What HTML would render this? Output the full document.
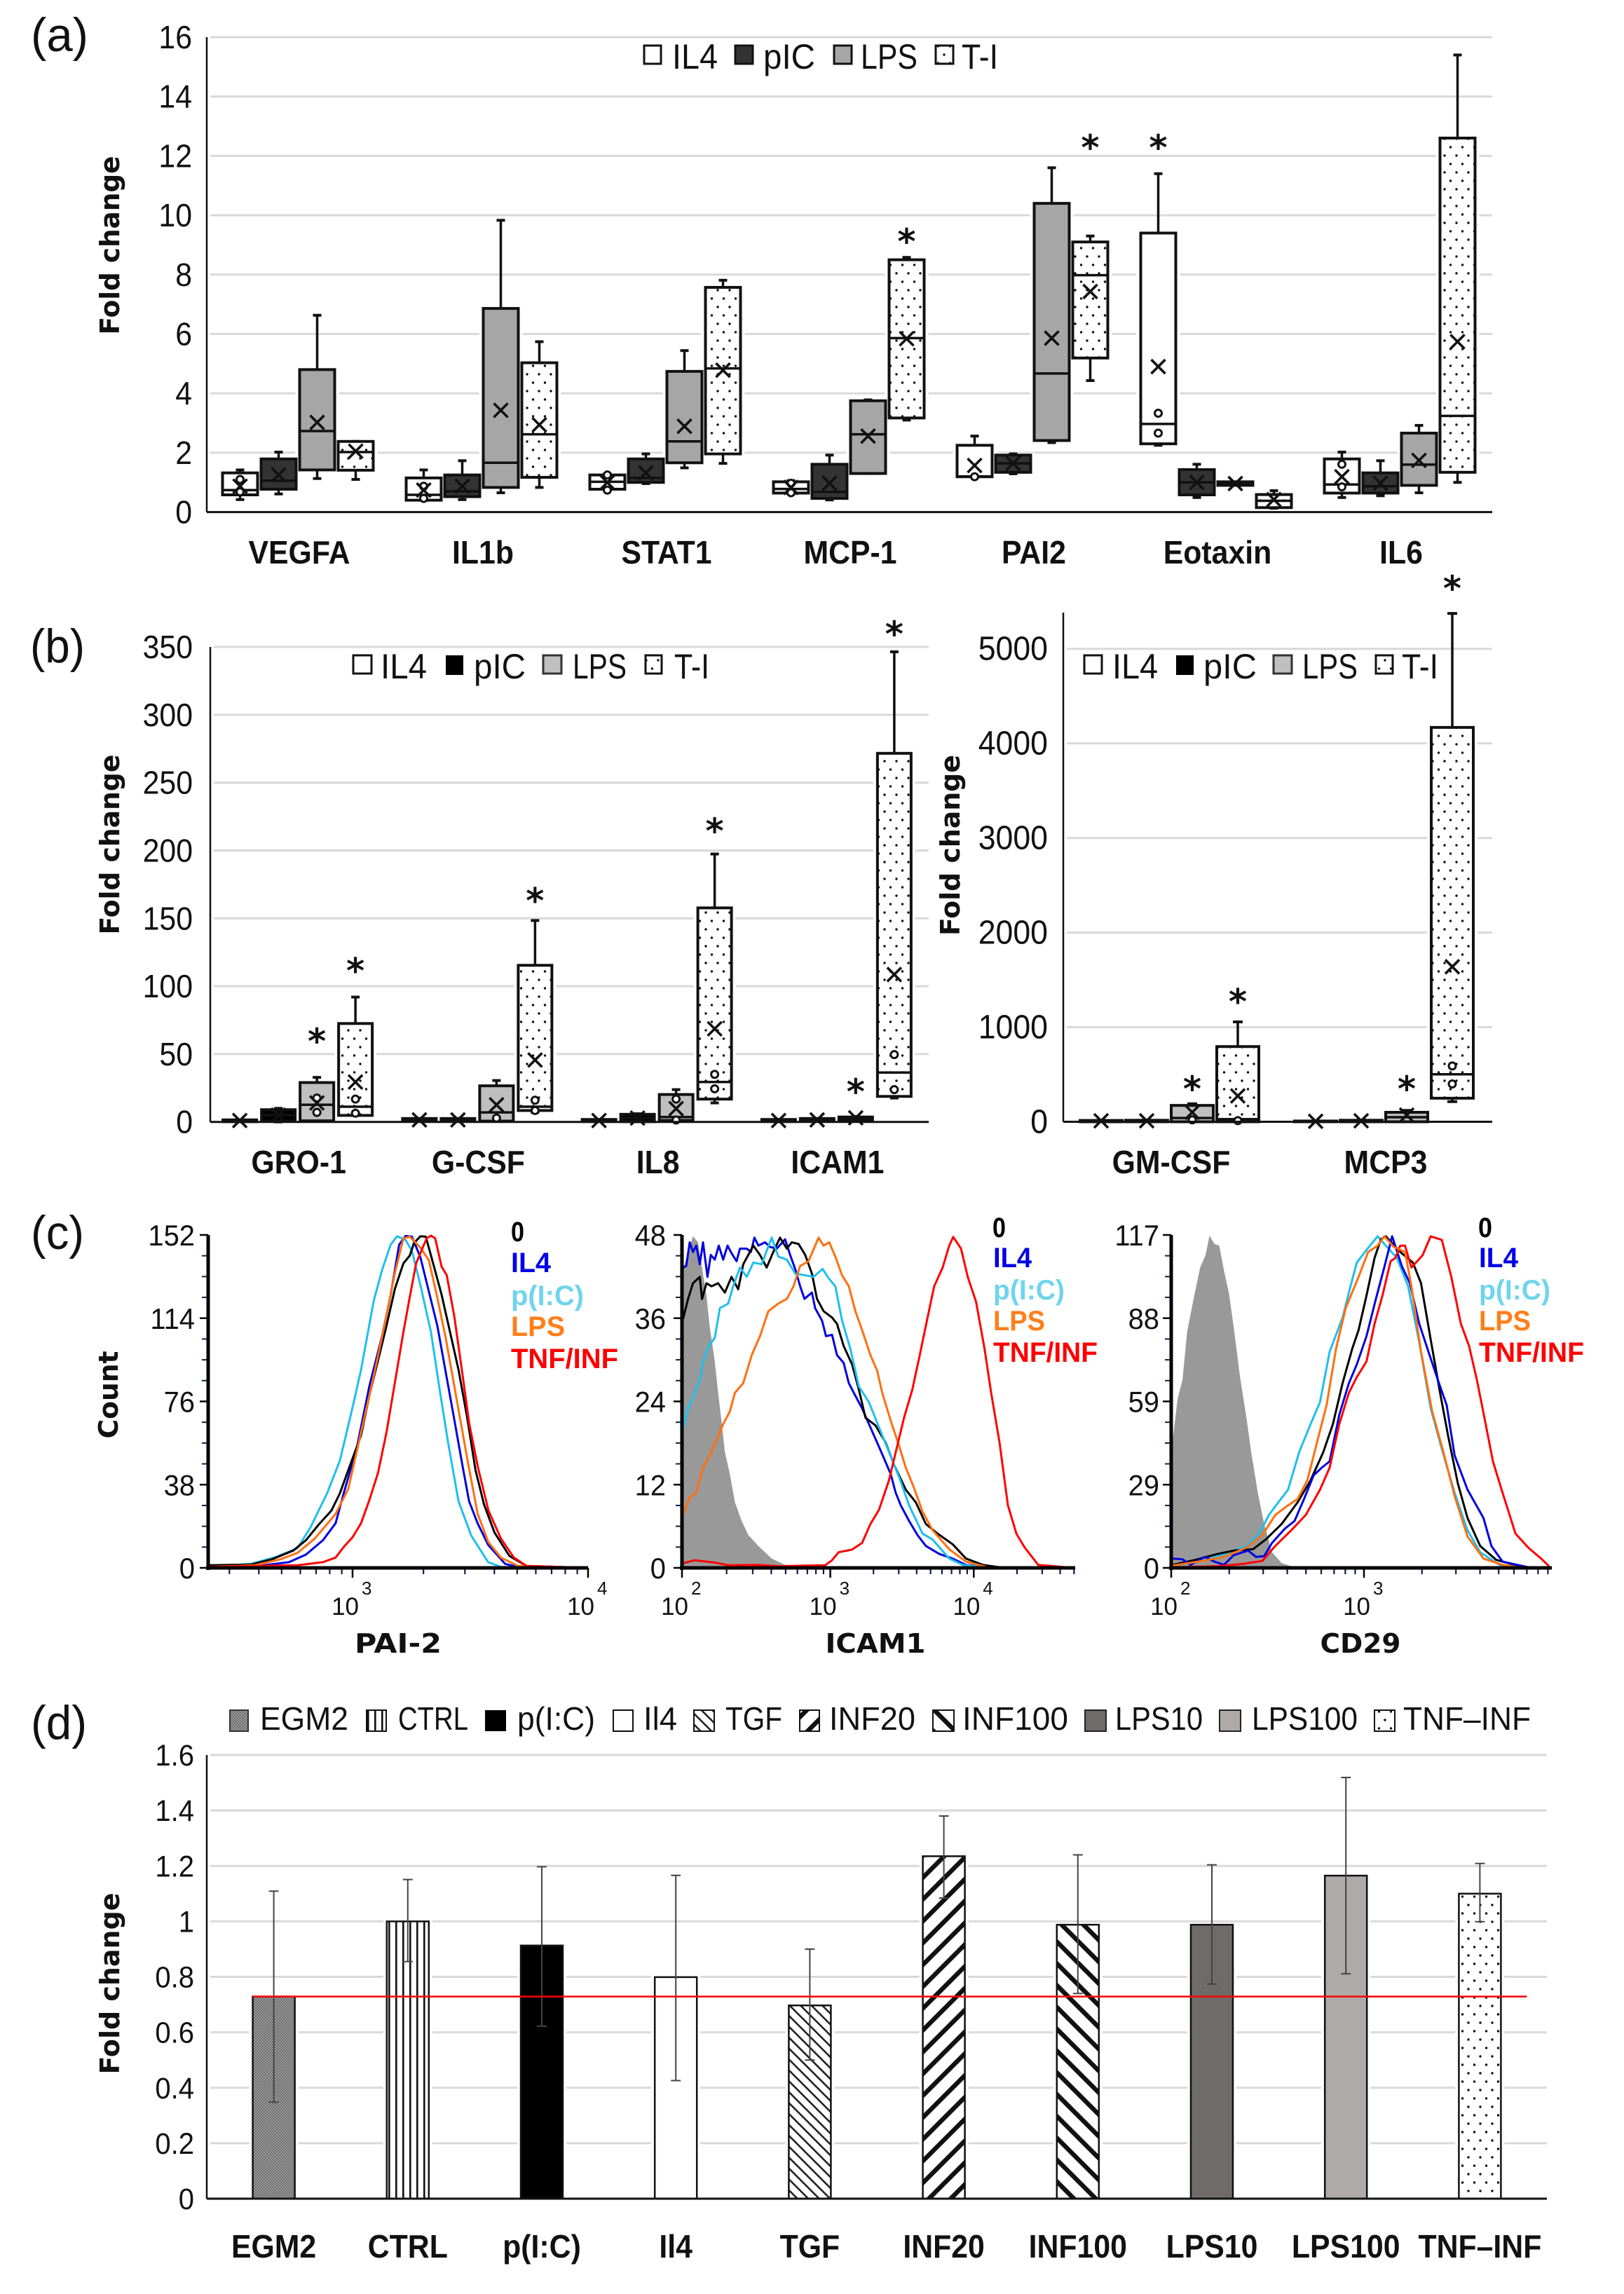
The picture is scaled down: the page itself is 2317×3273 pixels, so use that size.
<!DOCTYPE html>
<html lang="en">
<head>
<meta charset="utf-8">
<title>Fold change box plots, flow cytometry histograms and bar chart</title>
<style>
html,body{margin:0;padding:0;background:#fff;}
svg{display:block;}
text{font-family:"Liberation Sans",sans-serif;fill:#111;}
.title{font-family:"DejaVu Sans",sans-serif;font-weight:700;font-size:38px;text-anchor:middle;}
.flow-x{font-family:"DejaVu Sans",sans-serif;font-weight:700;font-size:38px;text-anchor:middle;}
.panel{font-size:68px;}
.leg{font-size:50px;}
.legd{font-size:46px;}
.legc{font-size:40px;font-weight:700;}
</style>
</head>
<body>
<svg id="figure" xmlns="http://www.w3.org/2000/svg" width="2317" height="3273" viewBox="0 0 2317 3273">
<defs>
<pattern id="dots" patternUnits="userSpaceOnUse" width="17" height="24"><rect width="17" height="24" fill="#fff"/><circle cx="4" cy="6" r="1.7" fill="#111"/><circle cx="12.5" cy="18" r="1.7" fill="#111"/></pattern>
<pattern id="fine" patternUnits="userSpaceOnUse" width="4" height="4"><rect width="4" height="4" fill="#9a9a9a"/><rect width="2" height="2" fill="#6e6e6e"/><rect x="2" y="2" width="2" height="2" fill="#6e6e6e"/></pattern>
<pattern id="vert" patternUnits="userSpaceOnUse" width="10" height="10"><rect width="10" height="10" fill="#fff"/><rect x="4" width="2.6" height="10" fill="#111"/></pattern>
<pattern id="thinback" patternUnits="userSpaceOnUse" width="11" height="11" patternTransform="rotate(-45)"><rect width="11" height="11" fill="#fff"/><rect x="4" width="2.6" height="11" fill="#222"/></pattern>
<pattern id="thickfwd" patternUnits="userSpaceOnUse" width="22" height="22" patternTransform="rotate(45)"><rect width="22" height="22" fill="#fff"/><rect x="6" width="6.5" height="22" fill="#111"/></pattern>
<pattern id="thickback" patternUnits="userSpaceOnUse" width="22" height="22" patternTransform="rotate(-45)"><rect width="22" height="22" fill="#fff"/><rect x="6" width="6.5" height="22" fill="#111"/></pattern>
</defs>

<rect width="2317" height="3273" fill="#fff"/>

<text class="panel" x="44" y="73" textLength="82" lengthAdjust="spacingAndGlyphs">(a)</text>
<text class="panel" x="43" y="945" textLength="78" lengthAdjust="spacingAndGlyphs">(b)</text>
<text class="panel" x="44" y="1782" textLength="76" lengthAdjust="spacingAndGlyphs">(c)</text>
<text class="panel" x="44" y="2481" textLength="80" lengthAdjust="spacingAndGlyphs">(d)</text>

<text class="title" transform="translate(170,350) rotate(-90)" textLength="255" lengthAdjust="spacingAndGlyphs">Fold change</text>
<text class="title" transform="translate(170,1205) rotate(-90)" textLength="257" lengthAdjust="spacingAndGlyphs">Fold change</text>
<text class="title" transform="translate(1369,1206) rotate(-90)" textLength="258" lengthAdjust="spacingAndGlyphs">Fold change</text>
<text class="title" transform="translate(168,1990) rotate(-90)" textLength="125" lengthAdjust="spacingAndGlyphs">Count</text>
<text class="title" transform="translate(170,2830) rotate(-90)" textLength="259" lengthAdjust="spacingAndGlyphs">Fold change</text>

<text class="flow-x" x="568" y="2358" textLength="124" lengthAdjust="spacingAndGlyphs">PAI-2</text>
<text class="flow-x" x="1249" y="2358" textLength="143" lengthAdjust="spacingAndGlyphs">ICAM1</text>
<text class="flow-x" x="1941" y="2358" textLength="115" lengthAdjust="spacingAndGlyphs">CD29</text>

<g>
<rect x="919" y="65" width="24" height="26" fill="#fff" stroke="#111" stroke-width="3"/>
<text class="leg" x="959" y="98" textLength="65" lengthAdjust="spacingAndGlyphs">IL4</text>
<rect x="1049" y="65" width="25" height="26" fill="#333" stroke="#111" stroke-width="3"/>
<text class="leg" x="1089" y="98" textLength="74" lengthAdjust="spacingAndGlyphs">pIC</text>
<rect x="1190" y="65" width="25" height="26" fill="#a6a6a6" stroke="#111" stroke-width="3"/>
<text class="leg" x="1228" y="98" textLength="81" lengthAdjust="spacingAndGlyphs">LPS</text>
<rect x="1335" y="65" width="25" height="26" fill="url(#dots)" stroke="#111" stroke-width="3"/>
<text class="leg" x="1372" y="98" textLength="52" lengthAdjust="spacingAndGlyphs">T-I</text>
</g>

<g>
<rect x="504" y="935" width="26" height="26" fill="#fff" stroke="#111" stroke-width="3"/>
<text class="leg" x="543" y="968" textLength="66" lengthAdjust="spacingAndGlyphs">IL4</text>
<rect x="637" y="936" width="23" height="26" fill="#000" stroke="#000" stroke-width="2"/>
<text class="leg" x="676" y="968" textLength="74" lengthAdjust="spacingAndGlyphs">pIC</text>
<rect x="775" y="935" width="26" height="26" fill="#bfbfbf" stroke="#333" stroke-width="3"/>
<text class="leg" x="817" y="968" textLength="77" lengthAdjust="spacingAndGlyphs">LPS</text>
<rect x="921" y="935" width="23" height="26" fill="url(#dots)" stroke="#111" stroke-width="3"/>
<text class="leg" x="962" y="968" textLength="50" lengthAdjust="spacingAndGlyphs">T-I</text>
</g>

<g>
<rect x="1547" y="935" width="25" height="26" fill="#fff" stroke="#111" stroke-width="3"/>
<text class="leg" x="1587" y="968" textLength="65" lengthAdjust="spacingAndGlyphs">IL4</text>
<rect x="1679" y="936" width="23" height="26" fill="#000" stroke="#000" stroke-width="2"/>
<text class="leg" x="1717" y="968" textLength="76" lengthAdjust="spacingAndGlyphs">pIC</text>
<rect x="1817" y="935" width="26" height="26" fill="#bfbfbf" stroke="#333" stroke-width="3"/>
<text class="leg" x="1858" y="968" textLength="79" lengthAdjust="spacingAndGlyphs">LPS</text>
<rect x="1963" y="935" width="24" height="26" fill="url(#dots)" stroke="#111" stroke-width="3"/>
<text class="leg" x="2000" y="968" textLength="52" lengthAdjust="spacingAndGlyphs">T-I</text>
</g>

<g>
<text class="legc" x="729" y="1771" style="fill:#000" textLength="19" lengthAdjust="spacingAndGlyphs">0</text>
<text class="legc" x="729" y="1815" style="fill:#0000e6" textLength="57" lengthAdjust="spacingAndGlyphs">IL4</text>
<text class="legc" x="729" y="1862" style="fill:#6fd4ee" textLength="104" lengthAdjust="spacingAndGlyphs">p(I:C)</text>
<text class="legc" x="729" y="1906" style="fill:#ff7f1a" textLength="77" lengthAdjust="spacingAndGlyphs">LPS</text>
<text class="legc" x="729" y="1952" style="fill:#f00" textLength="153" lengthAdjust="spacingAndGlyphs">TNF/INF</text>
</g>
<g>
<text class="legc" x="1416" y="1765" style="fill:#000" textLength="19" lengthAdjust="spacingAndGlyphs">0</text>
<text class="legc" x="1417" y="1808" style="fill:#0000e6" textLength="55" lengthAdjust="spacingAndGlyphs">IL4</text>
<text class="legc" x="1417" y="1854" style="fill:#6fd4ee" textLength="102" lengthAdjust="spacingAndGlyphs">p(I:C)</text>
<text class="legc" x="1417" y="1898" style="fill:#ff7f1a" textLength="74" lengthAdjust="spacingAndGlyphs">LPS</text>
<text class="legc" x="1417" y="1943" style="fill:#f00" textLength="149" lengthAdjust="spacingAndGlyphs">TNF/INF</text>
</g>
<g>
<text class="legc" x="2109" y="1765" style="fill:#000" textLength="20" lengthAdjust="spacingAndGlyphs">0</text>
<text class="legc" x="2110" y="1808" style="fill:#0000e6" textLength="56" lengthAdjust="spacingAndGlyphs">IL4</text>
<text class="legc" x="2110" y="1854" style="fill:#6fd4ee" textLength="102" lengthAdjust="spacingAndGlyphs">p(I:C)</text>
<text class="legc" x="2110" y="1898" style="fill:#ff7f1a" textLength="74" lengthAdjust="spacingAndGlyphs">LPS</text>
<text class="legc" x="2110" y="1943" style="fill:#f00" textLength="150" lengthAdjust="spacingAndGlyphs">TNF/INF</text>
</g>

<g>
<rect x="328" y="2440" width="26" height="30" fill="url(#fine)" stroke="#333" stroke-width="2"/>
<text class="legd" x="371" y="2468" textLength="126" lengthAdjust="spacingAndGlyphs">EGM2</text>
<rect x="523" y="2440" width="28" height="30" fill="url(#vert)" stroke="#111" stroke-width="2"/>
<text class="legd" x="568" y="2468" textLength="100" lengthAdjust="spacingAndGlyphs">CTRL</text>
<rect x="692" y="2440" width="30" height="30" fill="#000"/>
<text class="legd" x="738" y="2468" textLength="111" lengthAdjust="spacingAndGlyphs">p(I:C)</text>
<rect x="875" y="2440" width="28" height="30" fill="#fff" stroke="#111" stroke-width="2"/>
<text class="legd" x="918" y="2468" textLength="48" lengthAdjust="spacingAndGlyphs">Il4</text>
<rect x="990" y="2440" width="29" height="30" fill="url(#thinback)" stroke="#111" stroke-width="2"/>
<text class="legd" x="1035" y="2468" textLength="81" lengthAdjust="spacingAndGlyphs">TGF</text>
<rect x="1141" y="2440" width="28" height="30" fill="url(#thickfwd)" stroke="#111" stroke-width="2"/>
<text class="legd" x="1183" y="2468" textLength="123" lengthAdjust="spacingAndGlyphs">INF20</text>
<rect x="1331" y="2440" width="30" height="30" fill="url(#thickback)" stroke="#111" stroke-width="2"/>
<text class="legd" x="1373" y="2468" textLength="151" lengthAdjust="spacingAndGlyphs">INF100</text>
<rect x="1548" y="2440" width="30" height="30" fill="#6e6b6a" stroke="#222" stroke-width="2"/>
<text class="legd" x="1591" y="2468" textLength="125" lengthAdjust="spacingAndGlyphs">LPS10</text>
<rect x="1740" y="2440" width="30" height="30" fill="#aeaaa9" stroke="#222" stroke-width="2"/>
<text class="legd" x="1786" y="2468" textLength="151" lengthAdjust="spacingAndGlyphs">LPS100</text>
<rect x="1961" y="2440" width="29" height="30" fill="url(#dots)" stroke="#111" stroke-width="2"/>
<text class="legd" x="2002" y="2468" textLength="182" lengthAdjust="spacingAndGlyphs">TNF–INF</text>
</g>

<g id="plots"></g>
</svg>

<script>
/* ---------- Panel (a) box plots: rows are categories, columns IL4, pIC, LPS, T-I ---------- */
const aCategories = ['VEGFA','IL1b','STAT1','MCP-1','PAI2','Eotaxin','IL6'];
const aTicks = [0,2,4,6,8,10,12,14,16];
const aMin = [[.42,.61,1.13,1.1],[.4,.42,.65,.83],[.72,.96,1.49,1.64],[.61,.41,1.3,3.1],[1.19,1.29,2.34,4.43],[2.25,.49,.9,.13],[.49,.55,.65,1.0]];
const aQ1 = [[.58,.77,1.42,1.41],[.4,.52,.83,1.17],[.77,1.0,1.66,1.96],[.64,.46,1.3,3.17],[1.19,1.34,2.41,5.19],[2.3,.58,.9,.15],[.64,.64,.9,1.34]];
const aMedian = [[.74,1.06,2.73,2.02],[.58,.7,1.66,2.62],[1.02,1.15,2.38,4.84],[.78,.68,2.62,5.86],[1.2,1.64,4.67,7.98],[2.97,1.0,.96,.38],[.93,.87,1.6,3.24]];
const aQ3 = [[1.32,1.79,4.8,2.38],[1.15,1.25,6.86,5.03],[1.25,1.79,4.74,7.57],[1.02,1.61,3.75,8.5],[2.25,1.92,10.4,9.1],[9.4,1.43,1.02,.59],[1.79,1.32,2.66,12.6]];
const aMax = [[1.42,2.02,6.63,2.38],[1.42,1.73,9.83,5.74],[1.29,1.96,5.44,7.81],[1.06,1.92,3.78,8.58],[2.56,1.96,11.6,9.3],[11.4,1.61,1.02,.72],[2.02,1.73,2.92,15.4]];
const aMean = [[.87,1.25,3.02,2.05],[.74,.87,3.43,2.94],[1.0,1.32,2.89,4.78],[.83,.97,2.56,5.84],[1.57,1.64,5.86,7.43],[4.9,1.0,.96,.42],[1.19,.97,1.74,5.74]];
const aPoints = [[[1.1,.68],[],[],[]],[[.87,.46],[],[],[]],[[1.25,.74],[],[],[]],[[.97,.65],[],[],[]],[[1.19],[],[],[]],[[3.33,2.66],[],[],[]],[[1.61,.85],[],[],[]]];
const aStarCategory = [3,4,5];
const aStarSeries = [3,3,0];
const aStarValue = [9.32,12.48,12.48];

/* ---------- Panel (b) left ---------- */
const bCategories = ['GRO-1','G-CSF','IL8','ICAM1'];
const bTicks = [0,50,100,150,200,250,300,350];
const bMin = [[.2,0,.5,4.8],[.5,.5,.6,7],[.3,.2,1.1,14],[.3,.5,.5,17.6]];
const bQ1 = [[.2,.5,.8,4.8],[.5,.5,.6,8.4],[.3,.2,1.1,16.8],[.3,.5,.5,18.8]];
const bMedian = [[.8,5,12.6,11.2],[1.5,1.5,7,11.2],[1,2.8,3.6,29.4],[1,1.5,2,36.4]];
const bQ3 = [[1.5,9,29,72.5],[2.5,2.5,26.6,115.4],[1.8,5.6,20.2,157.7],[1.8,2.5,3.6,271.6]];
const bMax = [[1.5,10,32.8,92],[2.5,2.5,30.5,148.4],[1.8,6,23.8,197.4],[1.8,2.5,4,346.4]];
const bMean = [[1,5,14,29.4],[1.5,1.5,12.6,45.6],[1,2.8,9.8,68.6],[1,1.5,3,108.6]];
const bPoints = [[[],[],[17.6,7],[16.8,6.4]],[[],[],[2.8],[16,8.4]],[[],[],[16.8,1.4],[35,24.4]],[[],[],[],[49.6,23.8]]];
const bStarCategory = [0,0,1,2,3,3];
const bStarSeries = [2,3,3,3,2,3];
const bStarValue = [63.8,115.7,167.5,218.7,26.6,364];

/* ---------- Panel (b) right ---------- */
const cCategories = ['GM-CSF','MCP3'];
const cTicks = [0,1000,2000,3000,4000,5000];
const cMin = [[0,0,0,0],[0,0,0,213]];
const cQ1 = [[0,0,0,0],[0,0,0,249]];
const cMedian = [[8,8,40,28],[4,8,48,502]];
const cQ3 = [[14,16,173,795],[8,16,100,4169]];
const cMax = [[14,16,190,1056],[8,16,120,5374]];
const cMean = [[10,10,100,273],[5,10,70,1639]];
const cPoints = [[[],[],[20],[12]],[[],[],[],[590,400]]];
const cStarCategory = [0,0,1,1];
const cStarSeries = [2,3,2,3];
const cStarValue = [410,1333,410,5703];

/* ---------- Panel (c) histograms: [log10 intensity, percent of peak count] ---------- */
const pai2Ticks = [0,38,76,114,152];
const pai2Decades = [3,4];
const pai2Black = [[2.387,.8],[2.568,1],[2.658,2.6],[2.748,5.2],[2.802,8.3],[2.856,13],[2.91,17.2],[2.946,22.4],[2.982,29.4],[3.036,39.8],[3.072,52],[3.108,62.3],[3.144,72.7],[3.18,83.9],[3.216,91.5],[3.243,93.8],[3.261,97.6],[3.288,99.6],[3.311,99.5],[3.342,91.5],[3.378,82.1],[3.414,70.8],[3.45,59.5],[3.486,45.4],[3.522,29.4],[3.558,19.1],[3.603,10.6],[3.666,3.6],[3.738,.6],[4,0]];
const pai2Blue = [[2.387,.3],[2.622,.8],[2.73,1.7],[2.802,4],[2.874,8.3],[2.928,13.4],[2.964,22.8],[3.018,36],[3.072,54.8],[3.126,69.8],[3.162,82],[3.198,97.1],[3.225,99.7],[3.252,99.5],[3.288,93.3],[3.324,83],[3.36,72.7],[3.396,58.6],[3.432,44.5],[3.468,30.3],[3.495,20],[3.531,13.4],[3.576,6.9],[3.648,1.2],[3.702,.3],[4,0]];
const pai2Cyan = [[2.387,.3],[2.568,1.2],[2.676,3.3],[2.766,5.9],[2.82,12],[2.892,22.4],[2.946,32.2],[3,48.2],[3.036,59.5],[3.09,80.2],[3.126,89.6],[3.162,97.1],[3.189,99.6],[3.225,98.5],[3.252,95.2],[3.288,84.9],[3.333,70.8],[3.369,53.9],[3.405,37.9],[3.45,20],[3.504,9.7],[3.576,1.7],[3.63,.3],[4,0]];
const pai2Orange = [[2.387,.3],[2.586,.8],[2.694,2.6],[2.766,4.5],[2.838,8.7],[2.928,16.2],[2.982,23.8],[3.036,40.7],[3.09,57.6],[3.135,72.7],[3.18,88.7],[3.216,99],[3.243,99.5],[3.288,96.2],[3.324,92.4],[3.36,81.1],[3.396,68.9],[3.441,51],[3.486,33.2],[3.531,16.3],[3.576,7.8],[3.63,3.1],[3.702,.6],[4,0]];
const pai2Red = [[2.387,.3],[2.766,.8],[2.874,1.7],[2.928,3.1],[2.964,6.4],[3,9.2],[3.036,13.4],[3.072,20.5],[3.108,28.5],[3.144,40.7],[3.18,55.8],[3.216,70.9],[3.243,81.3],[3.27,91.5],[3.292,95.2],[3.315,99],[3.333,99.8],[3.351,99],[3.378,90.5],[3.4,87.9],[3.432,75.5],[3.468,57.6],[3.495,43.5],[3.532,30.3],[3.577,17.2],[3.631,8.7],[3.685,3.1],[3.739,.6],[4,0]];

const icamTicks = [0,12,24,36,48];
const icamDecades = [2,3,4];
const icamIsotype = [[2,0],[2.007,89.3],[2.041,94.9],[2.074,99.6],[2.108,97.8],[2.131,91.2],[2.165,81.8],[2.187,72.4],[2.221,62],[2.244,52.6],[2.266,44.2],[2.289,34.8],[2.323,28.2],[2.357,19.7],[2.402,14.1],[2.447,9.9],[2.515,6.6],[2.605,2.8],[2.695,.9],[2.831,.2],[3.012,0]];
const icamBlue = [[2.007,90.2],[2.029,90.7],[2.052,97.8],[2.074,94.9],[2.097,96.8],[2.12,91.2],[2.142,97.8],[2.172,87.4],[2.194,94],[2.221,92.6],[2.248,96.8],[2.278,92.6],[2.307,96.8],[2.334,94.5],[2.368,92.1],[2.391,95.9],[2.436,95.9],[2.465,94.9],[2.488,99.2],[2.515,96.8],[2.56,97.8],[2.594,96.4],[2.639,95.9],[2.695,98.7],[2.729,94],[2.763,89.8],[2.797,84.6],[2.826,80.8],[2.876,82.7],[2.898,78],[2.944,74.3],[2.971,69.6],[3.012,70],[3.047,63.9],[3.093,61.6],[3.129,55.5],[3.175,51.7],[3.222,47.9],[3.269,43.2],[3.327,37.6],[3.374,32.9],[3.421,28.2],[3.456,22.6],[3.491,18.8],[3.549,14.1],[3.607,9.9],[3.666,6.6],[3.759,4.2],[3.852,2.8],[3.946,.9],[4.086,.3],[4.273,.1]];
const icamBlack = [[2.007,74.7],[2.041,80.8],[2.074,85.5],[2.12,87.4],[2.135,80.8],[2.165,85.5],[2.199,84.6],[2.244,85.5],[2.289,82.7],[2.334,87.4],[2.379,83.7],[2.413,91.2],[2.447,94],[2.481,96.8],[2.526,94],[2.571,90.2],[2.616,94.9],[2.661,99.2],[2.707,95.9],[2.74,97.8],[2.786,97.3],[2.831,94],[2.876,88.4],[2.91,80.8],[2.955,77.1],[3.012,75.2],[3.047,73.3],[3.093,66.7],[3.152,61.1],[3.199,53.6],[3.245,45.1],[3.315,42.8],[3.386,37.6],[3.444,31],[3.526,23.5],[3.596,19.7],[3.666,13.2],[3.748,10.3],[3.853,7.1],[3.946,2.8],[4.063,.9],[4.18,.2]];
const icamCyan = [[2.007,41.8],[2.041,47.9],[2.086,52.6],[2.12,56.4],[2.142,62],[2.181,66.7],[2.221,69.1],[2.255,78],[2.312,79.4],[2.345,84.6],[2.391,90.2],[2.436,87.4],[2.481,91.7],[2.537,91.2],[2.605,99.2],[2.65,93.5],[2.707,92.6],[2.763,88.4],[2.831,87.9],[2.887,87.4],[2.948,89.8],[2.989,87],[3.035,84.6],[3.082,74.3],[3.14,65.8],[3.199,54.5],[3.269,49.8],[3.339,42.3],[3.409,34.8],[3.479,27.3],[3.549,18.8],[3.643,10.3],[3.713,8.5],[3.829,2.8],[3.923,.9],[4.086,.2]];
const icamOrange = [[2.007,16],[2.052,21.2],[2.097,22.6],[2.142,30.1],[2.187,33.8],[2.233,38.5],[2.278,43.2],[2.323,47],[2.357,52.6],[2.413,55.5],[2.47,63.9],[2.526,69.6],[2.582,77.1],[2.65,79.4],[2.707,80.8],[2.752,84.6],[2.797,90.7],[2.853,92.1],[2.921,99.2],[2.955,96.8],[2.993,97.8],[3.035,93.5],[3.082,87.9],[3.129,84.6],[3.175,77.1],[3.222,71.4],[3.28,63.9],[3.327,59.2],[3.362,52.6],[3.421,44.2],[3.479,36.7],[3.526,30.1],[3.584,24],[3.643,16.9],[3.713,11.3],[3.829,5.6],[3.946,1.9],[4.086,.3]];
const icamRed = [[2.007,1.4],[2.086,2.3],[2.221,1.6],[2.312,.8],[2.515,.9],[2.65,.5],[2.966,.8],[3.012,2.3],[3.058,4.7],[3.152,5.5],[3.222,7.5],[3.28,13.2],[3.339,17.4],[3.409,26.3],[3.467,36.7],[3.514,45.1],[3.572,53.6],[3.619,63],[3.678,75.2],[3.724,84.6],[3.783,90.2],[3.829,96.8],[3.857,99.4],[3.911,95.9],[3.958,87.4],[4.016,79.9],[4.075,65.8],[4.121,52.6],[4.18,37.6],[4.238,18.8],[4.297,10.3],[4.355,6.1],[4.449,.9],[4.647,.2]];

const cd29Ticks = [0,29,59,88,117];
const cd29Decades = [2,3];
const cd29Isotype = [[2,0],[2.008,38.5],[2.033,50.8],[2.058,56.4],[2.083,71],[2.116,80.8],[2.15,90.2],[2.178,94],[2.199,99.8],[2.224,97.3],[2.249,96.8],[2.274,89.3],[2.299,82.7],[2.324,72.4],[2.357,57.3],[2.39,45.1],[2.415,34.8],[2.449,22.6],[2.482,13.2],[2.523,4.7],[2.573,1.4],[2.64,.2],[2.739,0]];
const cd29Black = [[2.008,.9],[2.125,2.4],[2.241,4.2],[2.324,5.2],[2.424,5.6],[2.49,8.5],[2.573,13.2],[2.656,19.7],[2.723,26.3],[2.789,34.8],[2.839,43.2],[2.889,55.5],[2.939,65.8],[2.972,71.4],[3.013,81.8],[3.055,93.1],[3.088,98.7],[3.113,99.6],[3.188,94.9],[3.254,91.7],[3.296,85.5],[3.346,68.6],[3.395,52.6],[3.437,39.5],[3.487,25.4],[3.537,15],[3.603,6.6],[3.686,2.4],[3.819,.3]];
const cd29Blue = [[2.008,2.8],[2.058,2.6],[2.1,.9],[2.174,3.3],[2.224,1.9],[2.274,.9],[2.324,3.8],[2.399,5.2],[2.44,3.3],[2.482,3.5],[2.523,7.5],[2.59,11.8],[2.64,14.1],[2.689,20.7],[2.739,27.8],[2.781,30.1],[2.822,32],[2.872,46],[2.922,55.5],[2.963,61.1],[3.013,69.6],[3.063,81],[3.105,90.2],[3.146,99.6],[3.196,90.7],[3.238,85.5],[3.287,73.3],[3.346,62.9],[3.395,54.5],[3.429,48.9],[3.47,33.8],[3.537,23.5],[3.62,15],[3.661,6.6],[3.719,1.9],[3.852,.2]];
const cd29Cyan = [[2.008,.5],[2.141,1.9],[2.257,3.8],[2.39,6.6],[2.457,10.3],[2.507,15.9],[2.556,19.7],[2.606,23.5],[2.664,34.8],[2.723,43.2],[2.772,49.8],[2.822,64.9],[2.889,75.2],[2.93,84.6],[2.963,91.7],[3.013,95.5],[3.071,99.6],[3.113,96.8],[3.171,93.1],[3.229,84.6],[3.287,67.7],[3.346,47.9],[3.404,35.7],[3.47,22.6],[3.537,11.3],[3.603,4.7],[3.703,.9],[3.802,.2]];
const cd29Orange = [[2.008,.7],[2.141,1.9],[2.274,3.3],[2.39,6.1],[2.473,9.9],[2.54,15.9],[2.606,18.8],[2.656,20.7],[2.706,26.3],[2.756,37.6],[2.806,48.9],[2.855,65.8],[2.905,78],[2.972,87.4],[3.022,94.9],[3.071,96.8],[3.105,99.6],[3.155,96.4],[3.213,94.9],[3.246,84.6],[3.296,64.9],[3.354,47],[3.412,34.8],[3.47,21.6],[3.537,9.4],[3.62,2.8],[3.719,.9],[3.802,.2]];
const cd29Red = [[2.008,.2],[2.241,.5],[2.374,1.2],[2.473,2.1],[2.54,6.6],[2.623,11.3],[2.698,15.9],[2.772,23.5],[2.822,30.1],[2.872,43.2],[2.922,52.6],[2.963,57.3],[3.013,62],[3.055,73.3],[3.096,81.8],[3.138,92.1],[3.163,93.1],[3.188,96.8],[3.213,96.8],[3.246,90.2],[3.304,93.9],[3.346,99.6],[3.404,98.5],[3.453,87.4],[3.503,73.3],[3.545,66.7],[3.586,56.4],[3.628,44.2],[3.669,32],[3.719,22.6],[3.786,10.3],[3.852,6.1],[3.919,2.8],[3.96,.5]];

/* ---------- Panel (d) bars ---------- */
const dCategories = ['EGM2','CTRL','p(I:C)','Il4','TGF','INF20','INF100','LPS10','LPS100','TNF–INF'];
const dValues = [.729,1.0,.913,.799,.697,1.235,.988,.988,1.165,1.10];
const dErrorHigh = [1.109,1.151,1.197,1.166,.9,1.38,1.24,1.204,1.519,1.209];
const dErrorLow = [.348,.855,.622,.426,.5,1.084,.74,.774,.811,.999];
const dFills = ['url(#fine)','url(#vert)','#000','#fff','url(#thinback)','url(#thickfwd)','url(#thickback)','#6e6b6a','#aeaaa9','url(#dots)'];
const dTicks = [0,.2,.4,.6,.8,1,1.2,1.4,1.6];
const dReference = [.729];

/* ---------- Helpers ---------- */
const NS = 'http://www.w3.org/2000/svg';
const plots = document.getElementById('plots');

function add(parent, tag, attrs, text) {
  const n = document.createElementNS(NS, tag);
  for (const k in attrs) n.setAttribute(k, attrs[k]);
  if (text !== undefined) n.textContent = text;
  parent.appendChild(n);
  return n;
}
function linear(d0, d1, r0, r1) {
  return v => r0 + (v - d0) * (r1 - r0) / (d1 - d0);
}
function condense(t, factor) {
  t.setAttribute('textLength', (t.getComputedTextLength() * factor).toFixed(1));
  t.setAttribute('lengthAdjust', 'spacingAndGlyphs');
}

/* ---------- Box plot panels ---------- */
function drawBoxPanel(cfg) {
  const g = add(plots, 'g', {});
  
  
  const y = linear(0, cfg.domainTop, cfg.base, cfg.top);
  const band = (cfg.right - cfg.left) / cfg.categories.length;
  const cx = (i, j) => cfg.left + (i + .5) * band + (j - 1.5) * cfg.step + cfg.boxShift;

  cfg.ticks.forEach(t => {
    if (t !== 0) {
      const grid = add(g, 'line', {x1: cfg.left + 5, x2: cfg.right, y1: y(t), y2: y(t), stroke: '#d9d9d9', 'stroke-width': 3});
      
      
    }
    const lab = add(g, 'text', {x: cfg.labelRight, y: y(t) + 16, 'text-anchor': 'end', 'font-size': cfg.tickFont}, String(t));
    
    
    condense(lab, .93);
  });

  const yAxis = add(g, 'line', {x1: cfg.left, x2: cfg.left, y1: cfg.axisTop, y2: cfg.base, stroke: '#111', 'stroke-width': 2.5});
  
  

  cfg.categories.forEach((c, i) => {
    const lab = add(g, 'text', {x: cfg.left + (i + .5) * band + cfg.labelShift, y: cfg.labelY, 'text-anchor': 'middle', 'font-size': 46, 'font-weight': 700}, c);
    
    
    condense(lab, .93);
    for (let j = 0; j < 4; j++) {
      const halo = add(g, 'rect', {x: cx(i, j) - cfg.boxWidth / 2 - 6, y: y(cfg.q3[i][j]) - 3, width: cfg.boxWidth + 12, height: Math.max(0, y(cfg.q1[i][j]) - y(cfg.q3[i][j])) + 3, fill: '#fff'});
      
      
    }
  });

  cfg.categories.forEach((c, i) => {
    for (let j = 0; j < 4; j++) {
      const x = cx(i, j);
      const w = cfg.boxWidth;
      const whisker = add(g, 'line', {x1: x, x2: x, y1: y(cfg.max[i][j]), y2: y(cfg.min[i][j]), stroke: '#111', 'stroke-width': 3.5});
      
      
      [cfg.max[i][j], cfg.min[i][j]].forEach(v => {
        const cap = add(g, 'line', {x1: x - cfg.cap, x2: x + cfg.cap, y1: y(v), y2: y(v), stroke: '#111', 'stroke-width': 4});
        
        
      });
      const box = add(g, 'rect', {x: x - w / 2, y: y(cfg.q3[i][j]), width: w, height: y(cfg.q1[i][j]) - y(cfg.q3[i][j]), fill: cfg.fills[j], stroke: '#111', 'stroke-width': 4});
      
      
      const med = add(g, 'line', {x1: x - w / 2, x2: x + w / 2, y1: y(cfg.median[i][j]), y2: y(cfg.median[i][j]), stroke: '#111', 'stroke-width': 3.5});
      
      
      cfg.points[i][j].forEach(v => {
        const dot = add(g, 'circle', {cx: x, cy: y(v), r: 5, fill: '#fff', stroke: '#111', 'stroke-width': 3});
        
        
      });
      const my = y(cfg.mean[i][j]);
      const mean = add(g, 'path', {d: 'M' + (x - 10) + ' ' + (my - 10) + 'L' + (x + 10) + ' ' + (my + 10) + 'M' + (x + 10) + ' ' + (my - 10) + 'L' + (x - 10) + ' ' + (my + 10), stroke: '#111', 'stroke-width': 3.6, fill: 'none'});
      
      
    }
  });

  const xAxis = add(g, 'line', {x1: cfg.left, x2: cfg.right, y1: cfg.base, y2: cfg.base, stroke: '#111', 'stroke-width': 3});
  
  

  cfg.starCategory.forEach((c, k) => {
    const star = add(g, 'text', {x: cx(c, cfg.starSeries[k]), y: y(cfg.starValue[k]) + 26, 'text-anchor': 'middle', 'font-size': 50, 'font-weight': 700, style: 'font-family:"DejaVu Sans",sans-serif'}, '*');
    
    
  });
}

drawBoxPanel({name: 'chart-a', categories: aCategories, ticks: aTicks, min: aMin, q1: aQ1, median: aMedian, q3: aQ3, max: aMax, mean: aMean, points: aPoints,
  starCategory: aStarCategory, starSeries: aStarSeries, starValue: aStarValue,
  left: 295, right: 2129, base: 730.6, top: 53, axisTop: 53, domainTop: 16, step: 55, boxWidth: 50, cap: 6, labelRight: 274, tickFont: 46, labelY: 804, boxShift: -1, labelShift: 1,
  fills: ['#fff', '#333', '#a6a6a6', 'url(#dots)']});
drawBoxPanel({name: 'chart-b-left', categories: bCategories, ticks: bTicks, min: bMin, q1: bQ1, median: bMedian, q3: bQ3, max: bMax, mean: bMean, points: bPoints,
  starCategory: bStarCategory, starSeries: bStarSeries, starValue: bStarValue,
  left: 300, right: 1325, base: 1600.7, top: 923, axisTop: 923, domainTop: 350, step: 55, boxWidth: 48, cap: 6, labelRight: 275, tickFont: 46, labelY: 1674, boxShift: -3.5, labelShift: -2,
  fills: ['#fff', '#000', '#bfbfbf', 'url(#dots)']});
drawBoxPanel({name: 'chart-b-right', categories: cCategories, ticks: cTicks, min: cMin, q1: cQ1, median: cMedian, q3: cQ3, max: cMax, mean: cMean, points: cPoints,
  starCategory: cStarCategory, starSeries: cStarSeries, starValue: cStarValue,
  left: 1517, right: 2129, base: 1600.5, top: 925.7, axisTop: 874, domainTop: 5000, step: 65, boxWidth: 60, cap: 7, labelRight: 1495, tickFont: 48, labelY: 1674, boxShift: -1.5, labelShift: 1,
  fills: ['#fff', '#000', '#bfbfbf', 'url(#dots)']});

/* ---------- Histogram panels ---------- */
const HIST_COLORS = {black: '#000', blue: '#0000e0', cyan: '#1fbfee', orange: '#ff6f10', red: '#f00'};

function drawHistogram(cfg) {
  const g = add(plots, 'g', {});
  
  
  const base = 2237, top = 1762;
  const x = linear(cfg.anchorLog[0], cfg.anchorLog[1], cfg.anchorPx[0], cfg.anchorPx[1]);
  const xs = cfg.anchorLog2 === undefined ? x : (v => v <= cfg.anchorLog[1] ? x(v) : linear(cfg.anchorLog[1], cfg.anchorLog2, cfg.anchorPx[1], cfg.anchorPx2)(v));
  const y = linear(0, 100, base, top);
  const toPath = pts => pts.map((p, i) => (i ? 'L' : 'M') + xs(p[0]).toFixed(1) + ' ' + y(p[1]).toFixed(1)).join('');

  if (cfg.isotype) {
    const fill = add(g, 'path', {d: toPath(cfg.isotype) + 'Z', fill: '#999'});
    
    
  }
  cfg.series.forEach(s => {
    const line = add(g, 'path', {d: toPath(s.data), fill: 'none', stroke: HIST_COLORS[s.color], 'stroke-width': 3, 'stroke-linejoin': 'round'});
    
    
  });

  for (let k = 1; k < 16; k++) {
    const my = base - (base - top) * k / 16;
    const minor = add(g, 'line', {x1: cfg.axisX - 9, x2: cfg.axisX, y1: my, y2: my, stroke: '#10204a', 'stroke-width': 2});
    
    
  }
  cfg.ticks.forEach((t, k) => {
    const ty = base - (base - top) * k / (cfg.ticks.length - 1);
    const tick = add(g, 'line', {x1: cfg.axisX - 12, x2: cfg.axisX, y1: ty, y2: ty, stroke: '#000', 'stroke-width': 2.5});
    
    
    const lab = add(g, 'text', {x: cfg.labelRight, y: ty + 15, 'text-anchor': 'end', 'font-size': 42}, String(t));
    
    
    condense(lab, .95);
  });

  const lo = Math.floor(cfg.logMin), hi = Math.floor(cfg.logMax);
  for (let d = lo; d <= hi; d++) {
    for (let m = 2; m < 10; m++) {
      const lv = d + Math.log10(m);
      if (lv < cfg.logMin || lv > cfg.logMax) continue;
      const minor = add(g, 'line', {x1: xs(lv), x2: xs(lv), y1: base, y2: base + 9, stroke: '#10204a', 'stroke-width': 2.2});
      
      
    }
  }
  cfg.decades.forEach(d => {
    const tx = xs(d);
    const tick = add(g, 'line', {x1: tx, x2: tx, y1: base, y2: base + 14, stroke: '#000', 'stroke-width': 2.5});
    
    
    const ten = add(g, 'text', {x: tx + 9, y: 2304, 'text-anchor': 'end', 'font-size': 35}, '10');
    
    
    const sup = add(g, 'text', {x: tx + 13, y: 2275, 'font-size': 26}, String(d));
    
    
  });

  const yAxis = add(g, 'line', {x1: cfg.axisX, x2: cfg.axisX, y1: top, y2: base + 3, stroke: '#000', 'stroke-width': 5});
  
  
  const xAxis = add(g, 'line', {x1: cfg.axisX - 3, x2: cfg.axisEnd, y1: base, y2: base, stroke: '#000', 'stroke-width': 5});
  
  
}

drawHistogram({name: 'histogram-pai2', ticks: pai2Ticks, decades: pai2Decades,
  anchorLog: [3, 4], anchorPx: [503, 839], logMin: 2.387, logMax: 4, axisX: 297, axisEnd: 839, labelRight: 278,
  series: [{data: pai2Cyan, color: 'cyan'}, {data: pai2Blue, color: 'blue'}, {data: pai2Black, color: 'black'}, {data: pai2Orange, color: 'orange'}, {data: pai2Red, color: 'red'}]});
drawHistogram({name: 'histogram-icam1', ticks: icamTicks, decades: icamDecades, isotype: icamIsotype,
  anchorLog: [2, 3], anchorPx: [973, 1184.6], anchorLog2: 4, anchorPx2: 1389.3, logMin: 2, logMax: 4.7, axisX: 973, axisEnd: 1534, labelRight: 950,
  series: [{data: icamBlue, color: 'blue'}, {data: icamBlack, color: 'black'}, {data: icamCyan, color: 'cyan'}, {data: icamOrange, color: 'orange'}, {data: icamRed, color: 'red'}]});
drawHistogram({name: 'histogram-cd29', ticks: cd29Ticks, decades: cd29Decades, isotype: cd29Isotype,
  anchorLog: [2, 3], anchorPx: [1671, 1946], logMin: 2, logMax: 3.97, axisX: 1671, axisEnd: 2214, labelRight: 1654,
  series: [{data: cd29Cyan, color: 'cyan'}, {data: cd29Black, color: 'black'}, {data: cd29Blue, color: 'blue'}, {data: cd29Red, color: 'red'}, {data: cd29Orange, color: 'orange'}]});

/* ---------- Bar panel ---------- */
(function drawBars() {
  const g = add(plots, 'g', {});
  
  
  const left = 295, right = 2207, base = 3137, top = 2504, barW = 60;
  const y = linear(0, 1.6, base, top);
  const band = (right - left) / dCategories.length;
  const cx = i => left + (i + .5) * band;

  dTicks.forEach(t => {
    if (t !== 0) {
      const grid = add(g, 'line', {x1: left + 5, x2: right, y1: y(t), y2: y(t), stroke: '#d9d9d9', 'stroke-width': 3});
      
      
    }
    const lab = add(g, 'text', {x: 277, y: y(t) + 15, 'text-anchor': 'end', 'font-size': 43}, String(t));
    
    
    condense(lab, .93);
  });

  dCategories.forEach((c, i) => {
    const x = cx(i);
    const halo = add(g, 'rect', {x: x - barW / 2 - 5, y: y(dValues[i]) - 3, width: barW + 10, height: base - y(dValues[i]) + 3, fill: '#fff'});
    
    
    const bar = add(g, 'rect', {x: x - barW / 2, y: y(dValues[i]), width: barW, height: base - y(dValues[i]), fill: dFills[i], stroke: '#111', 'stroke-width': 2.5});
    
    
    const lab = add(g, 'text', {x: x, y: 3221, 'text-anchor': 'middle', 'font-size': 46, 'font-weight': 700}, c);
    
    
    condense(lab, .93);
  });

  const yAxis = add(g, 'line', {x1: left, x2: left, y1: top, y2: base, stroke: '#111', 'stroke-width': 2.5});
  
  
  const xAxis = add(g, 'line', {x1: left, x2: right, y1: base, y2: base, stroke: '#111', 'stroke-width': 3});
  
  

  dCategories.forEach((c, i) => {
    const x = cx(i);
    const err = add(g, 'line', {x1: x, x2: x, y1: y(dErrorHigh[i]), y2: y(dErrorLow[i]), stroke: '#444', 'stroke-width': 2});
    
    
    [dErrorHigh[i], dErrorLow[i]].forEach(v => {
      const cap = add(g, 'line', {x1: x - 7, x2: x + 7, y1: y(v), y2: y(v), stroke: '#444', 'stroke-width': 2});
      
      
    });
  });

  const ref = add(g, 'line', {x1: cx(0) - barW / 2, x2: cx(dCategories.length - 1) + 67, y1: y(dReference[0]), y2: y(dReference[0]), stroke: '#f00', 'stroke-width': 2.5});
  
  
})();
</script>
</body>
</html>
